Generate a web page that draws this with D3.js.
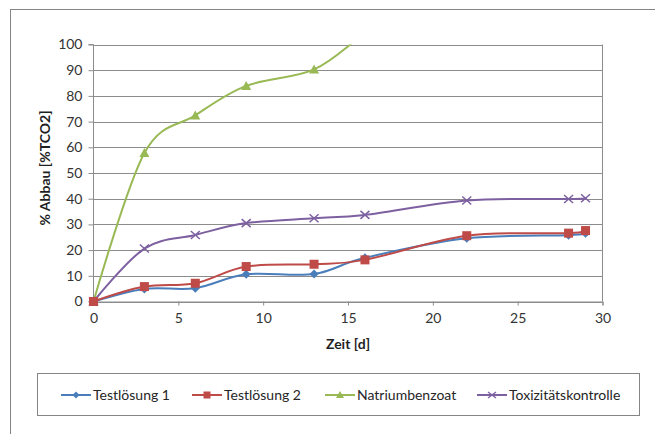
<!DOCTYPE html>
<html><head><meta charset="utf-8">
<script src="https://cdn.jsdelivr.net/npm/d3@7"></script>
<style>
html,body{margin:0;padding:0;background:#fff;}
svg{display:block;font-family:Lato,"Open Sans",sans-serif;}
</style></head>
<body>
<script>
const days = [0, 3, 6, 9, 13, 16, 22, 28, 29];
const test1 = [0, 4.9, 5.2, 10.6, 10.7, 17.0, 24.6, 25.8, 26.6];
const test2 = [0, 5.8, 7.1, 13.6, 14.5, 16.2, 25.6, 26.6, 27.6];
const natrium = [0, 57.8, 72.4, 83.9, 90.3, 105];
const toxi = [0, 20.6, 25.9, 30.5, 32.4, 33.7, 39.3, 39.9, 40.2];
const seriesNames = ["Testlösung 1", "Testlösung 2", "Natriumbenzoat", "Toxizitätskontrolle"];
const seriesColors = ["#4a7ebb", "#be4b48", "#98b954", "#7d60a0"];
const markerTypes = ["diamond", "square", "triangle", "x"];
const xTicks = [0, 5, 10, 15, 20, 25, 30];
const yTicks = [0, 10, 20, 30, 40, 50, 60, 70, 80, 90, 100];

const W = 655, H = 434;
const svg = d3.select("body").append("svg").attr("width", W).attr("height", H);

// outer chart border
svg.append("rect").attr("x", 10.5).attr("y", 9.5).attr("width", 660).attr("height", 440)
  .attr("fill", "none").attr("stroke", "#858585").attr("stroke-width", 1);

const L = 93.5, R = 602.5, T = 44.5, B = 301.5;
const x = d3.scaleLinear().domain([0, 30]).range([L, R]);
const y = d3.scaleLinear().domain([0, 100]).range([B, T]);

const grid = "#8c8c8c";
svg.append("g").selectAll("line").data(yTicks).join("line")
  .attr("x1", L).attr("x2", R).attr("y1", d => Math.round(y(d)) + 0.5).attr("y2", d => Math.round(y(d)) + 0.5)
  .attr("stroke", grid).attr("stroke-width", 1);
svg.append("line").attr("x1", R).attr("x2", R).attr("y1", T).attr("y2", B).attr("stroke", grid);

const yAxis = d3.axisLeft(y).tickValues(yTicks).tickSize(5).tickPadding(6);
const gy = svg.append("g").attr("transform", `translate(${L},0)`).call(yAxis);
const xAxis = d3.axisBottom(x).tickValues(xTicks).tickSize(4).tickPadding(8);
const gx = svg.append("g").attr("transform", `translate(0,${B})`).call(xAxis);
[gx, gy].forEach(g => {
  g.select(".domain").attr("stroke", grid);
  g.selectAll(".tick line").attr("stroke", grid);
  g.selectAll(".tick text").attr("fill", "#333").attr("font-size", "14px").attr("font-family", "Lato, sans-serif");
});
gy.select(".domain").attr("d", `M-5,${T}H0V${B}H-5`);

svg.append("text").attr("x", x(15)).attr("y", 349).attr("text-anchor", "middle")
  .attr("font-weight", "bold").attr("font-size", "14px").attr("fill", "#1f1f1f").text("Zeit [d]");
svg.append("text").attr("transform", `translate(50,${(T + B) / 2 - 5}) rotate(-90)`).attr("text-anchor", "middle")
  .attr("font-weight", "bold").attr("font-size", "14px").attr("fill", "#1f1f1f").text("% Abbau [%TCO2]");

svg.append("clipPath").attr("id", "clip").append("rect")
  .attr("x", L - 10).attr("y", T - 1).attr("width", R - L + 20).attr("height", B - T + 12);
svg.append("clipPath").attr("id", "clipTop").append("rect")
  .attr("x", L - 10).attr("y", T).attr("width", R - L + 20).attr("height", B - T + 12);

const allSeries = [test1, test2, natrium, toxi];
const line = d3.line().x(d => x(d[0])).y(d => y(d[1])).curve(d3.curveCardinal.tension(0));

function marker(g, type, color, cx, cy) {
  if (type === "diamond") {
    g.append("path").attr("d", `M${cx},${cy - 4.5}L${cx + 4.5},${cy}L${cx},${cy + 4.5}L${cx - 4.5},${cy}Z`).attr("fill", color);
  } else if (type === "square") {
    g.append("rect").attr("x", cx - 4.5).attr("y", cy - 4.5).attr("width", 9).attr("height", 9).attr("fill", color);
  } else if (type === "triangle") {
    g.append("path").attr("d", `M${cx},${cy - 5}L${cx + 5},${cy + 4}L${cx - 5},${cy + 4}Z`).attr("fill", color);
  } else {
    g.append("path").attr("d", `M${cx - 4.5},${cy - 4}L${cx + 4.5},${cy + 4}M${cx - 4.5},${cy + 4}L${cx + 4.5},${cy - 4}`)
      .attr("stroke", color).attr("stroke-width", 1.5).attr("fill", "none");
  }
}

const plotG = svg.append("g").attr("clip-path", "url(#clip)");
const drawOrder = [2, 3, 0, 1];
drawOrder.forEach(i => {
  const pts = allSeries[i].map((v, k) => [days[k], v]);
  const g = plotG.append("g");
  const lg = i === 2 ? g.append("g").attr("clip-path", "url(#clipTop)") : g;
  lg.append("path").attr("d", line(pts)).attr("fill", "none").attr("stroke", seriesColors[i]).attr("stroke-width", 2);
  pts.forEach(p => { if (p[1] <= 100) marker(g, markerTypes[i], seriesColors[i], x(p[0]), y(p[1])); });
});

// legend
svg.append("rect").attr("x", 37.5).attr("y", 373.5).attr("width", 602).attr("height", 42)
  .attr("fill", "#fff").attr("stroke", "#858585");
const legX = [61, 192, 325, 477];
seriesNames.forEach((name, i) => {
  const g = svg.append("g");
  const ly = 395;
  const c = seriesColors[i];
  g.append("line").attr("x1", legX[i]).attr("x2", legX[i] + 30).attr("y1", ly).attr("y2", ly)
    .attr("stroke", c).attr("stroke-width", 2);
  const cx = legX[i] + 15;
  if (markerTypes[i] === "x") {
    g.append("path").attr("d", `M${cx - 4},${ly - 3}L${cx + 4},${ly + 3}M${cx - 4},${ly + 3}L${cx + 4},${ly - 3}`)
      .attr("stroke", c).attr("stroke-width", 1.3);
  } else if (markerTypes[i] === "diamond") {
    g.append("path").attr("d", `M${cx},${ly - 3.5}L${cx + 3.5},${ly}L${cx},${ly + 3.5}L${cx - 3.5},${ly}Z`).attr("fill", c);
  } else if (markerTypes[i] === "square") {
    g.append("rect").attr("x", cx - 3.5).attr("y", ly - 3.5).attr("width", 7).attr("height", 7).attr("fill", c);
  } else {
    g.append("path").attr("d", `M${cx},${ly - 4}L${cx + 4},${ly + 3}L${cx - 4},${ly + 3}Z`).attr("fill", c);
  }
  g.append("text").attr("x", legX[i] + 32).attr("y", ly + 5).attr("font-size", "14px").attr("fill", "#262626").text(name);
});
</script>
</body></html>
